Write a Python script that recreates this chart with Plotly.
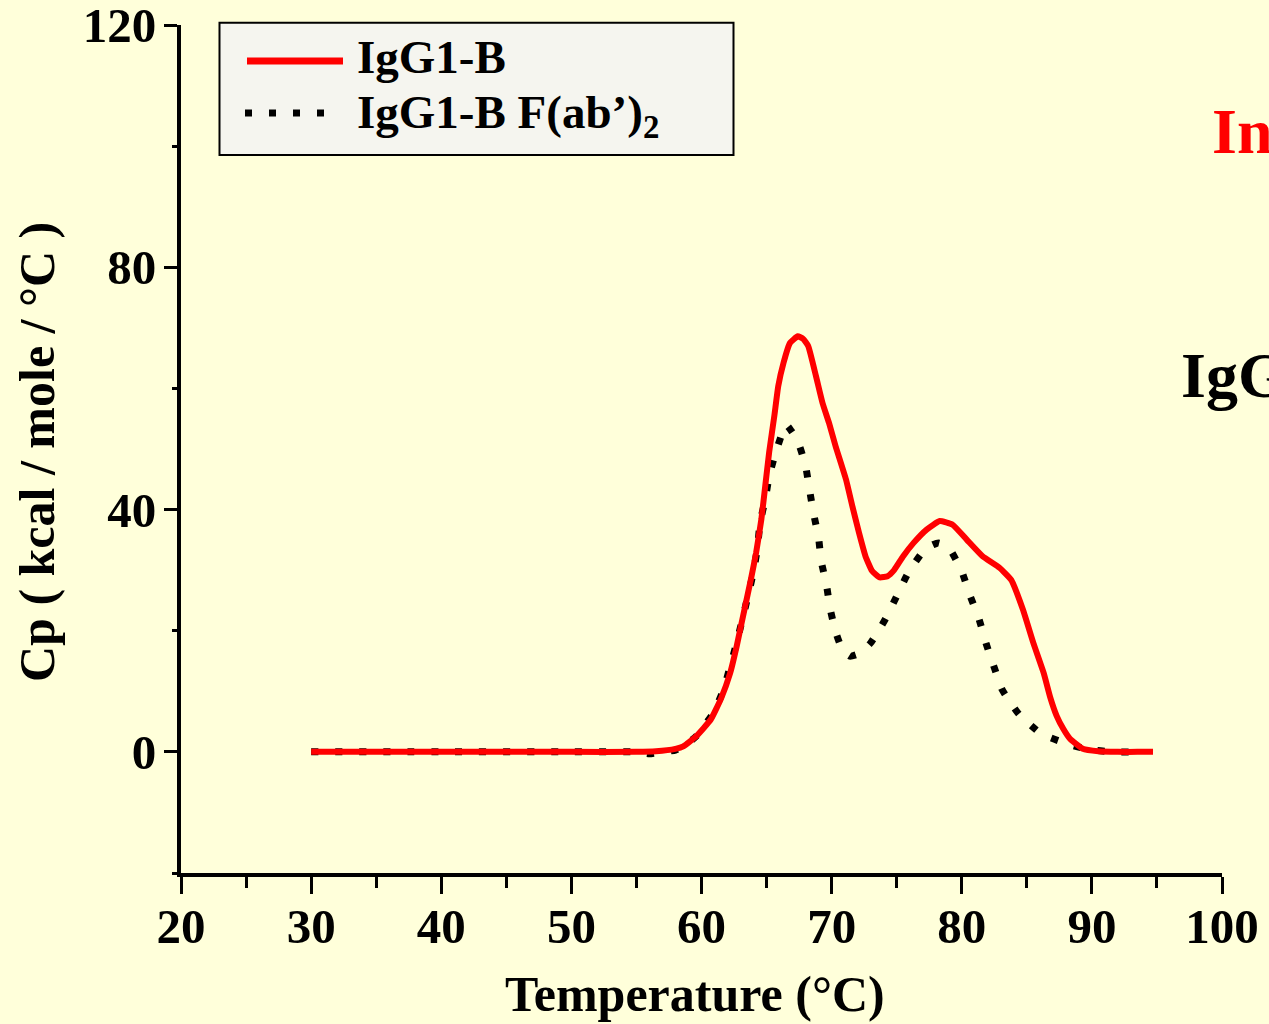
import plotly.graph_objects as go

# DSC thermograms: excess heat capacity vs temperature
temp_igg = [30, 40, 50, 55, 56.5, 58.0, 58.6, 59.6, 60.7, 61.5, 62.2, 62.7, 63.3, 63.8,
            64.2, 64.6, 64.9, 65.2, 65.6, 65.9, 66.3, 66.8, 67.4, 67.8, 68.2, 68.8,
            69.3, 69.8, 70.3, 71.1, 71.6, 72.1, 72.6, 73.1, 73.7, 74.3, 74.8, 75.5, 76.3,
            77.3, 78.3, 79.3, 80.4, 81.6, 82.9, 83.8, 84.7, 85.5, 86.3, 86.8, 87.3,
            87.8, 88.3, 89.3, 90.5, 92.0, 93.5, 94.7]
cp_igg = [0, 0, 0, 0, 0.1, 0.5, 0.9, 2.6, 5.3, 8.8, 13.0, 17.4, 23.5, 28.5,
          32.9, 38.4, 43.9, 49.5, 55.5, 60.4, 64.2, 67.5, 68.6, 68.2, 67.0, 62.0,
          57.6, 54.3, 50.5, 45.0, 40.5, 36.2, 32.3, 29.9, 28.8, 29.0, 30.0, 32.3, 34.5,
          36.7, 38.1, 37.5, 35.0, 32.3, 30.4, 28.4, 23.5, 18.0, 13.0, 9.0, 5.9,
          3.8, 2.2, 0.5, 0.1, 0.0, 0.0, 0.0]

temp_fab = [30, 40, 50, 55, 56.0, 57.0, 58.0, 58.6, 59.6, 60.9, 61.7, 62.2, 62.7,
            63.2, 63.6, 64.0, 64.3, 64.5, 64.9, 65.2, 65.7, 66.5, 66.9, 67.4, 68.0,
            68.3, 68.6, 69.0, 69.2, 69.6, 69.9, 70.3, 70.8, 71.4, 72.2, 73.0, 74.1,
            75.0, 75.9, 77.2, 78.2, 79.0, 80.0, 80.6, 81.3, 81.9, 82.5, 83.1, 84.4,
            86.1, 88.0, 89.7, 91.6, 93.5, 94.0]
cp_fab = [0, 0, 0, 0, -0.3, 0, 0.3, 0.9, 2.6, 6.4, 10.3, 14.1, 18.0,
          22.4, 26.0, 29.8, 33.7, 37.8, 41.7, 45.5, 49.4, 54.0, 53.0, 51.3, 47.2,
          43.3, 39.5, 35.3, 31.5, 27.6, 23.5, 19.9, 17.0, 15.8, 16.3, 18.0, 21.8,
          25.7, 29.6, 33.5, 34.5, 33.7, 29.8, 26.0, 22.1, 17.7, 13.9, 10.3, 6.2,
          3.0, 1.4, 0.4, 0.0, 0.0, 0.0]

x_ticks = [20, 30, 40, 50, 60, 70, 80, 90, 100]
y_ticks = [0, 40, 80, 120]

name_igg = "IgG1-B"
name_fab = "IgG1-B F(ab’)<sub>2</sub>"

BG = "#FFFFDA"
FONT = "Liberation Serif"

W, H = 1269, 1024
L, R, T, B = 181, 47, 25, 151
PW, PH = W - L - R, H - T - B


def px(xp):
    return (xp - L) / PW


def py(yp):
    return (H - B - yp) / PH


fig = go.Figure()

fig.add_trace(go.Scatter(
    x=temp_fab, y=cp_fab, mode="lines", name=name_fab, showlegend=False,
    line=dict(color="black", width=7, dash="7px,17px", shape="spline", smoothing=0.5),
))
fig.add_trace(go.Scatter(
    x=temp_igg, y=cp_igg, mode="lines", name=name_igg, showlegend=False,
    line=dict(color="#FF0000", width=6, shape="spline", smoothing=0.4),
))

axis_font = dict(family=FONT, size=49, color="black", weight="bold")

fig.update_xaxes(
    range=[20, 100], tickvals=x_ticks, ticks="outside", ticklen=17, tickwidth=3,
    tickcolor="black", showline=True, linewidth=4, linecolor="black",
    showgrid=False, zeroline=False, tickfont=axis_font, automargin=False,
    ticklabeloverflow="allow", ticklabelstandoff=-10,
    minor=dict(dtick=5, tick0=20, ticks="outside", ticklen=11, tickwidth=3, tickcolor="black"),
)
fig.update_yaxes(
    range=[-20, 120], tickvals=y_ticks, ticks="outside", ticklen=13, tickwidth=3,
    tickcolor="black", showline=True, linewidth=4, linecolor="black",
    showgrid=False, zeroline=False, tickfont=axis_font, automargin=False,
    ticklabeloverflow="allow", ticklabelstandoff=-2,
    minor=dict(dtick=20, tick0=0, ticks="outside", ticklen=5, tickwidth=3, tickcolor="black"),
)

# Legend box drawn by hand
shapes = [
    dict(type="rect", xref="paper", yref="paper",
         x0=px(219.5), x1=px(733.5), y0=py(155), y1=py(22.7),
         line=dict(color="black", width=2), fillcolor="#F5F5EF", layer="above"),
    dict(type="line", xref="paper", yref="paper",
         x0=px(247), x1=px(343), y0=py(61), y1=py(61),
         line=dict(color="#FF0000", width=7), layer="above"),
    dict(type="line", xref="paper", yref="paper",
         x0=px(245), x1=px(325), y0=py(113), y1=py(113),
         line=dict(color="black", width=7, dash="7px,17px"), layer="above"),
]

annotations = [
    dict(text=f"<b>{name_igg}</b>", xref="paper", yref="paper", x=px(355), y=py(57),
         xanchor="left", yanchor="middle", showarrow=False,
         font=dict(family=FONT, size=47, color="black")),
    dict(text=f"<b>{name_fab}</b>", xref="paper", yref="paper", x=px(355), y=py(116),
         xanchor="left", yanchor="middle", showarrow=False,
         font=dict(family=FONT, size=47, color="black")),
    dict(text="<b>Temperature (°C)</b>", xref="paper", yref="paper", x=px(695), y=py(994),
         xanchor="center", yanchor="middle", showarrow=False,
         font=dict(family=FONT, size=50, color="black")),
    dict(text="<b>Cp ( kcal / mole / °C )</b>", xref="paper", yref="paper", x=px(37), y=py(452),
         xanchor="center", yanchor="middle", showarrow=False, textangle=-90,
         font=dict(family=FONT, size=50, color="black")),
    dict(text="<b>Intact</b>", xref="paper", yref="paper", x=px(1210), y=py(131),
         xanchor="left", yanchor="middle", showarrow=False,
         font=dict(family=FONT, size=64, color="#FF0000")),
    dict(text="<b>IgG1-B</b>", xref="paper", yref="paper", x=px(1179), y=py(376),
         xanchor="left", yanchor="middle", showarrow=False,
         font=dict(family=FONT, size=64, color="black")),
]

fig.update_layout(
    width=W, height=H,
    margin=dict(l=L, r=R, t=T, b=B, autoexpand=False),
    paper_bgcolor=BG, plot_bgcolor=BG,
    showlegend=False,
    shapes=shapes, annotations=annotations,
)

fig.write_html("out.html")
